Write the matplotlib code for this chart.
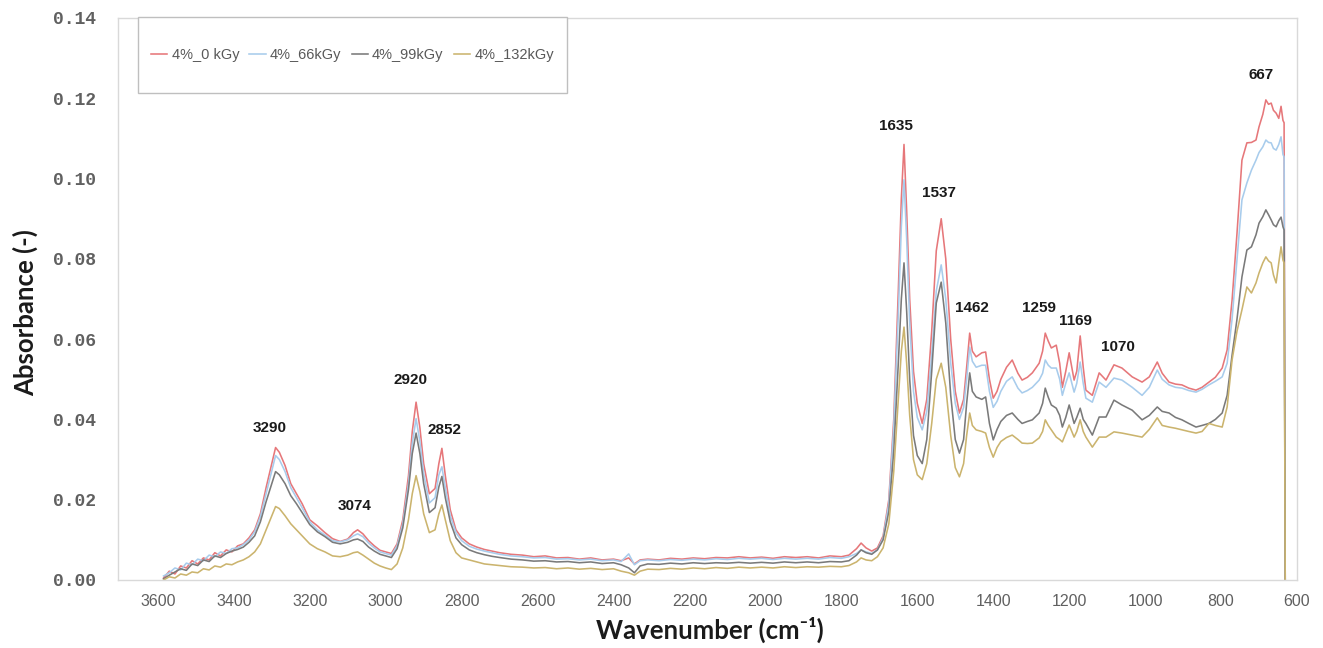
import matplotlib
matplotlib.use('Agg')
import matplotlib.pyplot as plt
from matplotlib.patches import Rectangle
import numpy as np

# ---------------- data ----------------
wavenumber = [
    3585, 3570, 3555, 3540, 3525, 3510, 3495, 3480, 3465, 3450,
    3435, 3420, 3405, 3390, 3375, 3360, 3345, 3330, 3315, 3300,
    3290, 3280, 3265, 3250, 3235, 3220, 3200, 3180, 3160, 3140,
    3120, 3100, 3085, 3074,
    3060, 3045, 3030, 3015, 3000, 2985, 2970, 2955, 2940, 2930,
    2920, 2910, 2900, 2885, 2870, 2860, 2852, 2843, 2830, 2815, 2800,
    2780, 2760, 2740, 2720, 2700, 2670, 2640, 2610, 2580, 2550,
    2520, 2490, 2460, 2430, 2400, 2380, 2360, 2345, 2330, 2310,
    2280, 2250, 2220, 2190, 2160, 2130, 2100, 2070, 2040, 2010,
    1980, 1950, 1920, 1890, 1860, 1830, 1800,
    1780, 1760, 1748, 1735, 1720, 1705, 1690, 1675, 1662, 1650,
    1642, 1635, 1628, 1620, 1610, 1600,
    1587, 1575, 1562, 1550, 1537, 1525, 1512, 1500, 1489, 1478,
    1470, 1462, 1455, 1445, 1430, 1420, 1410, 1400,
    1390, 1380, 1365, 1350, 1335, 1324, 1310, 1297, 1279, 1270,
    1263, 1255, 1247, 1234, 1225, 1218, 1209, 1200, 1187, 1180,
    1171, 1163, 1156, 1139, 1121, 1103, 1082, 1061, 1034, 1008,
    989, 968, 955, 937, 920, 903, 885, 866,
    850, 832, 815, 797, 784, 771, 758, 745, 732, 720,
    708, 700, 690, 682, 675, 668, 662, 655, 648, 642,
    637, 634, 631,
]

abs_0kGy = [
    0.0005, 0.0022, 0.0015, 0.0035, 0.0030, 0.0048, 0.0040, 0.0055, 0.0050, 0.0068,
    0.0060, 0.0075, 0.0070, 0.0085, 0.0090, 0.0105, 0.0125, 0.0165, 0.0230, 0.0290,
    0.0330, 0.0318, 0.0285, 0.0240, 0.0215, 0.0190, 0.0150, 0.0135, 0.0118, 0.0103,
    0.0096, 0.0102, 0.0118, 0.0125,
    0.0115, 0.0098, 0.0085, 0.0074, 0.0070, 0.0066, 0.0090, 0.0150, 0.0260, 0.0370,
    0.0443, 0.0380, 0.0290, 0.0215, 0.0228, 0.0290, 0.0328, 0.0260, 0.0175, 0.0125, 0.0105,
    0.0090, 0.0082, 0.0076, 0.0072, 0.0068, 0.0064, 0.0062, 0.0058, 0.0060, 0.0055,
    0.0056, 0.0052, 0.0055, 0.0050, 0.0052, 0.0048, 0.0055, 0.0040, 0.0050, 0.0052,
    0.0050, 0.0054, 0.0052, 0.0055, 0.0053, 0.0056, 0.0055, 0.0058, 0.0055, 0.0057,
    0.0054, 0.0058, 0.0056, 0.0058, 0.0055, 0.0060, 0.0058,
    0.0062, 0.0078, 0.0092, 0.0080, 0.0072, 0.0080, 0.0110, 0.0200, 0.0400, 0.0720,
    0.0950, 0.1085, 0.0920, 0.0700, 0.0520, 0.0440,
    0.0390, 0.0450, 0.0620, 0.0820, 0.0900, 0.0800, 0.0600, 0.0470, 0.0416, 0.0450,
    0.0530, 0.0615, 0.0570, 0.0556, 0.0566, 0.0568, 0.0500, 0.0453,
    0.0470, 0.0500, 0.0530, 0.0548, 0.0515, 0.0498, 0.0505, 0.0516, 0.0540, 0.0570,
    0.0615, 0.0595, 0.0578, 0.0585, 0.0540, 0.0480, 0.0520, 0.0566, 0.0498, 0.0520,
    0.0608, 0.0530, 0.0473, 0.0460, 0.0516, 0.0498, 0.0536, 0.0528, 0.0506, 0.0493,
    0.0506, 0.0543, 0.0515, 0.0493, 0.0488, 0.0486, 0.0478, 0.0473,
    0.0480, 0.0493, 0.0505, 0.0528, 0.0573, 0.0697, 0.0864, 0.1046, 0.1089, 0.1090,
    0.1096, 0.1129, 0.1160, 0.1196, 0.1185, 0.1188, 0.1170, 0.1163, 0.1150, 0.1180,
    0.1145, 0.1139, 0.0000,
]

abs_66kGy = [
    0.0010, 0.0018, 0.0030, 0.0025, 0.0042, 0.0038, 0.0052, 0.0048, 0.0062, 0.0058,
    0.0070, 0.0066, 0.0078, 0.0080, 0.0088, 0.0100, 0.0120, 0.0158, 0.0215, 0.0272,
    0.0310, 0.0300, 0.0270, 0.0230, 0.0205, 0.0180, 0.0145, 0.0125, 0.0112, 0.0098,
    0.0095, 0.0100, 0.0110, 0.0115,
    0.0108, 0.0092, 0.0080, 0.0070, 0.0066, 0.0062, 0.0085, 0.0140, 0.0240, 0.0340,
    0.0402, 0.0345, 0.0265, 0.0192, 0.0205, 0.0262, 0.0282, 0.0230, 0.0160, 0.0118, 0.0098,
    0.0084, 0.0077, 0.0072, 0.0068, 0.0064, 0.0060, 0.0058, 0.0055, 0.0056, 0.0052,
    0.0053, 0.0050, 0.0052, 0.0048, 0.0050, 0.0046, 0.0065, 0.0038, 0.0048, 0.0050,
    0.0048, 0.0051, 0.0049, 0.0052, 0.0050, 0.0053, 0.0051, 0.0054, 0.0052, 0.0054,
    0.0051, 0.0054, 0.0052, 0.0054, 0.0052, 0.0056, 0.0054,
    0.0058, 0.0066, 0.0075, 0.0070, 0.0066, 0.0075, 0.0105, 0.0190, 0.0380, 0.0660,
    0.0880, 0.0997, 0.0850, 0.0640, 0.0470, 0.0405,
    0.0374, 0.0420, 0.0560, 0.0720, 0.0785, 0.0700, 0.0540, 0.0440, 0.0400, 0.0430,
    0.0500, 0.0580, 0.0545, 0.0530, 0.0535, 0.0535, 0.0470, 0.0430,
    0.0445, 0.0470, 0.0495, 0.0506, 0.0478, 0.0466, 0.0472, 0.0480, 0.0498, 0.0515,
    0.0548, 0.0535, 0.0528, 0.0528, 0.0500, 0.0460, 0.0490, 0.0516, 0.0468, 0.0490,
    0.0543, 0.0490, 0.0453, 0.0443, 0.0493, 0.0480, 0.0503, 0.0498, 0.0480, 0.0460,
    0.0480, 0.0523, 0.0500, 0.0486, 0.0480, 0.0478, 0.0472, 0.0468,
    0.0475, 0.0486, 0.0495, 0.0506, 0.0540, 0.0650, 0.0797, 0.0947, 0.0989, 0.1021,
    0.1046, 0.1065, 0.1079, 0.1096, 0.1090, 0.1089, 0.1075, 0.1071, 0.1085, 0.1104,
    0.1060, 0.1054, 0.0000,
]

abs_99kGy = [
    0.0003, 0.0012, 0.0020, 0.0028, 0.0024, 0.0040, 0.0036, 0.0050, 0.0046, 0.0060,
    0.0056, 0.0066, 0.0072, 0.0076, 0.0082, 0.0094, 0.0110, 0.0145, 0.0195, 0.0240,
    0.0270, 0.0262, 0.0240, 0.0210, 0.0190, 0.0168, 0.0138, 0.0120, 0.0108, 0.0094,
    0.0090, 0.0094, 0.0100, 0.0102,
    0.0096, 0.0082, 0.0072, 0.0064, 0.0060, 0.0056, 0.0078, 0.0130, 0.0225, 0.0315,
    0.0366, 0.0315, 0.0240, 0.0168, 0.0180, 0.0232, 0.0258, 0.0205, 0.0145, 0.0105, 0.0088,
    0.0075, 0.0068, 0.0063, 0.0059, 0.0056, 0.0052, 0.0050, 0.0047, 0.0048, 0.0045,
    0.0046, 0.0043, 0.0045, 0.0041, 0.0043, 0.0038, 0.0030, 0.0018, 0.0035, 0.0040,
    0.0039, 0.0042, 0.0040, 0.0043, 0.0041, 0.0043, 0.0042, 0.0044, 0.0042, 0.0044,
    0.0042, 0.0045, 0.0043, 0.0045, 0.0043, 0.0046, 0.0045,
    0.0048, 0.0062, 0.0075, 0.0068, 0.0064, 0.0075, 0.0100, 0.0170, 0.0320, 0.0540,
    0.0700, 0.0790, 0.0670, 0.0500, 0.0360, 0.0310,
    0.0290, 0.0350, 0.0520, 0.0690, 0.0742, 0.0640, 0.0460, 0.0350, 0.0316, 0.0350,
    0.0440, 0.0516, 0.0470, 0.0456, 0.0450, 0.0456, 0.0390, 0.0349,
    0.0375, 0.0395, 0.0410, 0.0416, 0.0400, 0.0390, 0.0395, 0.0399, 0.0416, 0.0440,
    0.0478, 0.0455, 0.0436, 0.0428, 0.0410, 0.0381, 0.0405, 0.0436, 0.0390, 0.0405,
    0.0428, 0.0400, 0.0390, 0.0361, 0.0406, 0.0406, 0.0448, 0.0436, 0.0423, 0.0399,
    0.0410, 0.0431, 0.0420, 0.0416, 0.0405, 0.0399, 0.0390, 0.0381,
    0.0385, 0.0390, 0.0400, 0.0416, 0.0460, 0.0560, 0.0650, 0.0755, 0.0822, 0.0830,
    0.0860, 0.0889, 0.0905, 0.0922, 0.0910, 0.0897, 0.0885, 0.0880, 0.0895, 0.0904,
    0.0880, 0.0872, 0.0000,
]

abs_132kGy = [
    0.0000, 0.0008, 0.0005, 0.0015, 0.0012, 0.0020, 0.0018, 0.0028, 0.0025, 0.0035,
    0.0032, 0.0040, 0.0038, 0.0045, 0.0050, 0.0058, 0.0070, 0.0090, 0.0125, 0.0160,
    0.0183, 0.0178, 0.0160, 0.0140, 0.0125, 0.0110, 0.0090, 0.0078, 0.0070, 0.0060,
    0.0058, 0.0062, 0.0068, 0.0070,
    0.0062, 0.0052, 0.0042, 0.0035, 0.0030, 0.0026, 0.0040, 0.0080, 0.0150, 0.0215,
    0.0260, 0.0220, 0.0165, 0.0118, 0.0125, 0.0165, 0.0187, 0.0150, 0.0098, 0.0068, 0.0055,
    0.0050, 0.0045, 0.0040, 0.0038, 0.0036, 0.0033, 0.0032, 0.0030, 0.0031, 0.0028,
    0.0030, 0.0027, 0.0029, 0.0026, 0.0028, 0.0022, 0.0018, 0.0012, 0.0022, 0.0027,
    0.0026, 0.0029, 0.0027, 0.0030, 0.0028, 0.0031, 0.0029, 0.0032, 0.0030, 0.0032,
    0.0030, 0.0033, 0.0031, 0.0033, 0.0032, 0.0034, 0.0033,
    0.0036, 0.0045, 0.0055, 0.0050, 0.0048, 0.0058, 0.0080, 0.0140, 0.0270, 0.0450,
    0.0570, 0.0630, 0.0540, 0.0410, 0.0300, 0.0262,
    0.0250, 0.0290, 0.0390, 0.0500, 0.0540, 0.0480, 0.0360, 0.0280, 0.0257, 0.0290,
    0.0360, 0.0416, 0.0385, 0.0374, 0.0370, 0.0366, 0.0330, 0.0306,
    0.0330, 0.0345, 0.0355, 0.0361, 0.0350, 0.0341, 0.0340, 0.0341, 0.0354, 0.0370,
    0.0399, 0.0385, 0.0374, 0.0356, 0.0350, 0.0344, 0.0365, 0.0386, 0.0356, 0.0370,
    0.0399, 0.0370, 0.0356, 0.0331, 0.0356, 0.0356, 0.0369, 0.0366, 0.0361, 0.0356,
    0.0375, 0.0404, 0.0385, 0.0381, 0.0378, 0.0374, 0.0370, 0.0366,
    0.0370, 0.0390, 0.0385, 0.0381, 0.0431, 0.0548, 0.0620, 0.0673, 0.0730, 0.0715,
    0.0740, 0.0765, 0.0790, 0.0805, 0.0795, 0.0790, 0.0760, 0.0740, 0.0790, 0.0830,
    0.0797, 0.0790, 0.0000,
]

series_labels = ['4%_0 kGy', '4%_66kGy', '4%_99kGy', '4%_132kGy']
peak_labels = ['3290', '3074', '2920', '2852', '1635', '1537', '1462',
               '1259', '1169', '1070', '667']
x_ticks = [3600, 3400, 3200, 3000, 2800, 2600, 2400, 2200, 2000, 1800,
           1600, 1400, 1200, 1000, 800, 600]
y_ticks = [0.00, 0.02, 0.04, 0.06, 0.08, 0.10, 0.12, 0.14]

# ---------------- figure ----------------
W, H = 1323, 648
fig = plt.figure(figsize=(W / 100, H / 100), dpi=100)
ax = fig.add_axes([118 / W, 1 - 580 / H, (1297 - 118) / W, (580 - 18) / H])

colors = ['#E6777A', '#A8CCEC', '#7A7A7A', '#CBB46E']
all_series = [abs_0kGy, abs_66kGy, abs_99kGy, abs_132kGy]
wn = np.array(wavenumber, dtype=float)
handles = []
for vals, col, lab in zip(all_series, colors, series_labels):
    h, = ax.plot(wn, vals, color=col, lw=1.15, label=lab)
    handles.append(h)

ax.set_xlim(3705, 600)
ax.set_ylim(0, 0.14)
ax.set_xticks(x_ticks)
ax.set_xticklabels([str(t) for t in x_ticks])
ax.set_yticks(y_ticks)
ax.set_yticklabels(['%.2f' % t for t in y_ticks])
ax.tick_params(length=0)
ax.tick_params(axis='y', pad=16, labelsize=13, labelcolor='#606060')
ax.tick_params(axis='x', pad=10, labelsize=11.5, labelcolor='#606060')
for lbl in ax.get_yticklabels():
    lbl.set_family('Liberation Mono')
    lbl.set_fontweight('bold')
for lbl in ax.get_xticklabels():
    lbl.set_family('Liberation Sans')
for sp in ax.spines.values():
    sp.set_color('#D9D9D9')
    sp.set_linewidth(1.0)

# peak annotations (offsets in pixels from the 0 kGy peak)
dx_px = [-6, -3, -6, 3, -8, -2, 2, -6, -5, -4, -10]
dy_px = [20, 24, 22, 18, 18, 26, 25, 25, 15, 21, 28]
red = np.array(abs_0kGy)
for lab, dx, dy in zip(peak_labels, dx_px, dy_px):
    idx = int(np.argmin(np.abs(wn - float(lab))))
    ax.annotate(lab, xy=(wn[idx], red[idx]), xytext=(dx, dy),
                textcoords='offset pixels', ha='center', va='center',
                fontsize=11, fontweight='bold', family='Liberation Sans',
                color='#1A1A1A', annotation_clip=False)

# axis titles
fig.text(25 / W, 1 - 313 / H, 'Absorbance (-)', rotation=90, ha='center',
         va='center', fontsize=18.5, fontweight='bold', family=['Lato', 'DejaVu Sans'],
         color='#1A1A1A')
fig.text(710 / W, 1 - 630 / H, 'Wavenumber (cm\u207b\u00b9)', ha='center',
         va='center', fontsize=18.5, fontweight='bold', family=['Lato', 'DejaVu Sans'],
         color='#1A1A1A')

# legend box
fig.patches.append(Rectangle((138 / W, 1 - 93 / H), (567 - 138) / W, (93 - 17) / H,
                             transform=fig.transFigure, fill=True, facecolor='white',
                             edgecolor='#BFBFBF', lw=1.0, zorder=5))
leg = fig.legend(handles, series_labels, loc='center',
                 bbox_to_anchor=((138 + 567) / 2 / W, 1 - 55 / H),
                 bbox_transform=fig.transFigure, ncol=4, frameon=False,
                 handlelength=1.1, handletextpad=0.3, columnspacing=0.7,
                 prop={'family': 'Liberation Sans', 'size': 10.5})
for t in leg.get_texts():
    t.set_color('#595959')
leg.set_zorder(6)

fig.savefig('out.png', dpi=100, facecolor='white')
